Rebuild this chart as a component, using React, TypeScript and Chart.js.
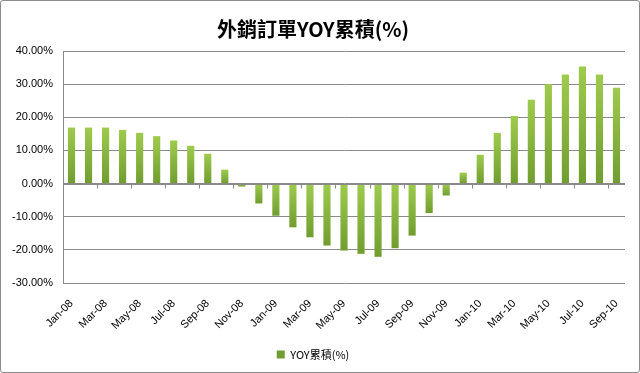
import React, { useEffect, useRef } from 'react';
import { Chart, registerables } from 'chart.js';

Chart.register(...registerables);

const categories = [
  'Jan-08', 'Feb-08', 'Mar-08', 'Apr-08', 'May-08', 'Jun-08', 'Jul-08', 'Aug-08', 'Sep-08', 'Oct-08', 'Nov-08', 'Dec-08',
  'Jan-09', 'Feb-09', 'Mar-09', 'Apr-09', 'May-09', 'Jun-09', 'Jul-09', 'Aug-09', 'Sep-09', 'Oct-09', 'Nov-09', 'Dec-09',
  'Jan-10', 'Feb-10', 'Mar-10', 'Apr-10', 'May-10', 'Jun-10', 'Jul-10', 'Aug-10', 'Sep-10',
];

const yoyValues = [
  16.9, 16.9, 16.9, 16.2, 15.3, 14.3, 13.0, 11.4, 9.0, 4.2, -0.9, -6.0,
  -9.7, -13.2, -16.2, -18.7, -20.2, -21.2, -22.1, -19.5, -15.7, -8.9, -3.6, 3.3,
  8.7, 15.3, 20.4, 25.3, 30.0, 32.9, 35.3, 32.9, 28.9,
];

const seriesName = 'YOY累積(%)';
const chartTitle = '外銷訂單YOY累積(%)';
const yMin = -30;
const yMax = 40;
const yStep = 10;

const LATIN = '"Liberation Sans", Arial, sans-serif';
const CJK = '"Noto Sans CJK TC", "Liberation Sans", sans-serif';
const GRID = '#8a8a8a';

export default function App() {
  const ref = useRef<HTMLCanvasElement>(null);

  useEffect(() => {
    document.body.style.margin = '0';
    const canvas = ref.current;
    if (!canvas) return;

    const axisTicks = {
      id: 'axisTicks',
      afterDatasetsDraw(chart: any) {
        const { ctx, scales } = chart;
        const x = scales.x;
        const y = scales.y;
        const y0 = Math.round(y.getPixelForValue(0)) + 0.5;
        ctx.save();
        ctx.strokeStyle = GRID;
        ctx.lineWidth = 1;
        ctx.beginPath();
        ctx.moveTo(x.left, y0);
        ctx.lineTo(x.right, y0);
        for (let i = 0; i <= categories.length; i += 2) {
          const px = Math.round(x.getPixelForValue(i - 0.5)) + 0.5;
          ctx.moveTo(px, y0);
          ctx.lineTo(px, y0 + 4);
        }
        ctx.stroke();
        ctx.restore();
      },
    };

    const barColor = (c: any) => {
      if (c.type !== 'data') return '#8dbb3f';
      const chart = c.chart;
      const ys = chart.scales && chart.scales.y;
      if (!chart.chartArea || !ys) return '#8dbb3f';
      const p0 = ys.getPixelForValue(0);
      const p1 = ys.getPixelForValue(c.raw);
      const top = Math.min(p0, p1);
      const bot = Math.max(p0, p1);
      if (bot - top < 1) return '#8dbb3f';
      const g = chart.ctx.createLinearGradient(0, top, 0, bot);
      g.addColorStop(0, '#9ecb4c');
      g.addColorStop(1, '#719d30');
      return g;
    };

    const chart = new Chart(canvas, {
      type: 'bar',
      data: {
        labels: categories,
        datasets: [
          {
            label: seriesName,
            data: yoyValues,
            backgroundColor: barColor as any,
            borderWidth: 0,
            barPercentage: 0.42,
            categoryPercentage: 1,
          },
        ],
      },
      options: {
        responsive: false,
        animation: false,
        layout: { padding: { left: 0, right: 14, top: 0, bottom: 2 } },
        plugins: {
          title: {
            display: true,
            text: chartTitle,
            color: '#000',
            font: { family: CJK, size: 20, weight: 'bold' },
            padding: { top: 16, bottom: 10 },
          },
          legend: {
            position: 'bottom',
            labels: {
              boxWidth: 8,
              boxHeight: 8,
              padding: 10,
              color: '#000',
              font: { family: CJK, size: 11 },
            },
          },
          tooltip: { enabled: false },
        },
        scales: {
          x: {
            grid: { display: false, drawTicks: true, tickLength: 12 },
            border: { display: false },
            ticks: {
              autoSkip: false,
              maxRotation: 45,
              minRotation: 45,
              padding: 2,
              color: '#000',
              font: { family: LATIN, size: 11 },
              callback: (_v: any, i: number) => (i % 2 === 0 ? categories[i] : ''),
            },
            afterFit: (s: any) => {
              s.height = 56;
            },
          },
          y: {
            min: yMin,
            max: yMax,
            ticks: {
              stepSize: yStep,
              padding: 10,
              color: '#000',
              font: { family: LATIN, size: 11 },
              callback: (v: any) => Number(v).toFixed(2) + '%',
            },
            grid: { color: GRID, drawTicks: false },
            border: { display: true, color: GRID },
            afterFit: (s: any) => {
              s.width = 62;
            },
          },
        },
      },
      plugins: [axisTicks],
    });

    return () => chart.destroy();
  }, []);

  return (
    <div
      style={{
        position: 'relative',
        width: 640,
        height: 373,
        boxSizing: 'border-box',
        border: '1px solid #8c8c8c',
        borderRadius: 3,
        background: '#fff',
      }}
    >
      <canvas ref={ref} width={638} height={371} style={{ display: 'block' }} />
    </div>
  );
}
